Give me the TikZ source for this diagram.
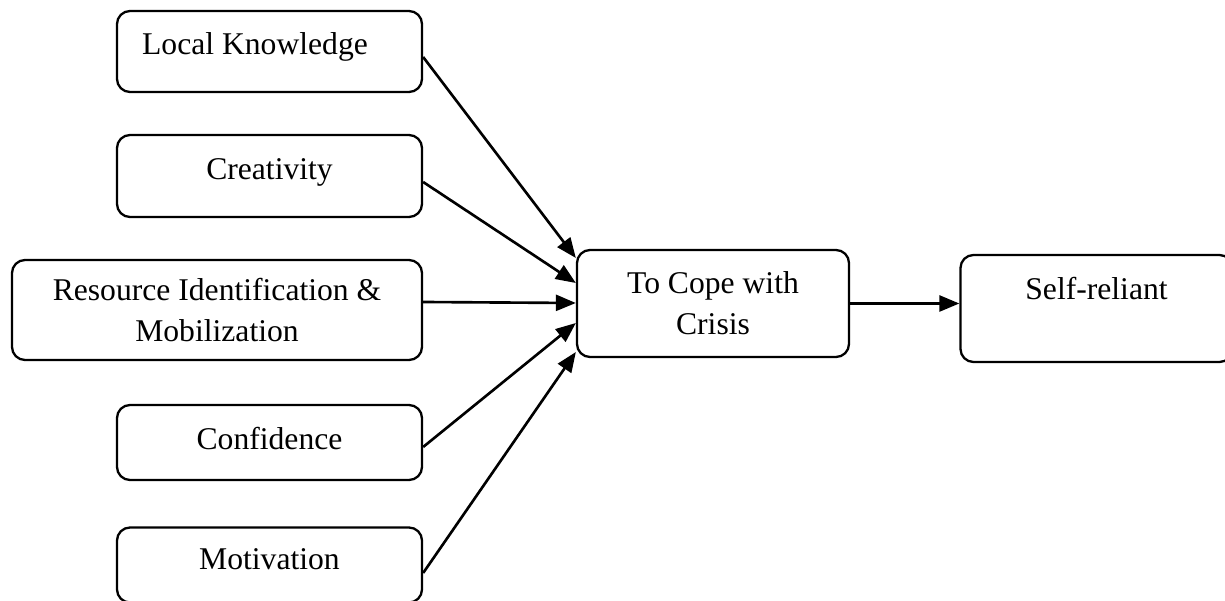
\documentclass[tikz,border=0pt]{standalone}
\usepackage{fontspec}
\setmainfont{Liberation Serif}
\usetikzlibrary{arrows.meta}

\tikzset{
  box/.style={draw, line width=1.3pt, rounded corners=0.26cm, align=center,
    font=\fontsize{18}{23.5}\selectfont, inner sep=0pt},
  lift/.style={text height=0.45cm, text depth=#1},
  arr/.style={line width=1.5pt, -{Triangle[length=0.4cm,width=0.32cm]}}
}

\begin{document}
\begin{tikzpicture}
  \useasboundingbox (0,0) rectangle (24.5,-12.02);
  \clip (0,0) rectangle (24.5,-12.02);
  % factors
  \node[box, lift=0.31cm, minimum width=6.1cm, minimum height=1.62cm] (lk) at (5.39,-1.03) {Local Knowledge\hspace{0.58cm}};
  \node[box, lift=0.29cm, minimum width=6.1cm, minimum height=1.64cm] (cr) at (5.39,-3.52) {Creativity};
  \node[box, minimum width=8.2cm, minimum height=2cm] (res) at (4.34,-6.2) {Resource Identification \&\\Mobilization};
  \node[box, lift=0.15cm, minimum width=6.1cm, minimum height=1.5cm] (conf) at (5.39,-8.85) {Confidence};
  \node[box, lift=0.25cm, minimum width=6.1cm, minimum height=1.5cm] (mot) at (5.39,-11.3) {Motivation};
  % outcome
  \node[box, minimum width=5.44cm, minimum height=2.14cm] (cope) at (14.26,-6.07) {To Cope with\\Crisis};
  \node[box, lift=0.79cm, minimum width=5.44cm, minimum height=2.14cm] (self) at (21.93,-6.17) {Self-reliant};

  \draw[arr] ([yshift=-0.11cm]lk.east) -- ([yshift=0.91cm]cope.west);
  \draw[arr] ([yshift=-0.12cm]cr.east) -- ([yshift=0.41cm]cope.west);
  \draw[arr] ([yshift=0.16cm]res.east) -- ([yshift=0.01cm]cope.west);
  \draw[arr] ([yshift=-0.09cm]conf.east) -- ([yshift=-0.39cm]cope.west);
  \draw[arr] ([yshift=-0.16cm]mot.east) -- ([yshift=-0.97cm]cope.west);
  \draw[arr] (cope.east) -- (cope.east -| self.west);
\end{tikzpicture}
\end{document}
